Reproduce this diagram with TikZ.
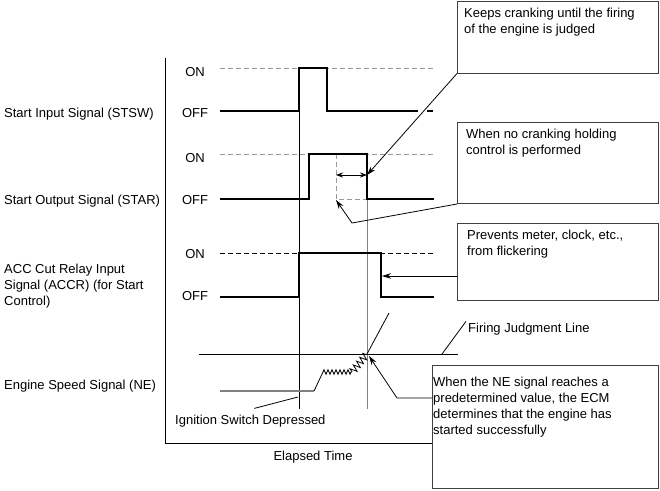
\documentclass[tikz,border=0pt]{standalone}
\usepackage{fontspec}
\setmainfont{Liberation Sans}
\usetikzlibrary{arrows.meta,decorations.pathmorphing}
\begin{document}
\begin{tikzpicture}[x=1pt,y=-1pt,
  every node/.style={font=\fontsize{13}{15.5}\selectfont, inner sep=0pt},
  lbl/.style={anchor=base west, align=left},
  onoff/.style={anchor=base},
  sig/.style={line width=1.3pt, line join=miter},
  dsh/.style={gray!80, line width=0.9pt, dash pattern=on 5pt off 3pt},
  dshk/.style={black, line width=0.9pt, dash pattern=on 5pt off 3pt},
  frame/.style={line width=0.9pt},
  thinv/.style={line width=0.7pt},
  box/.style={draw=black!75, line width=1pt, anchor=north west},
  boxtext/.style={anchor=north west, align=left},
  lead/.style={line width=0.8pt},
  tip/.style={-{Stealth[length=9pt,width=5.5pt]}},
  dtip/.style={{Stealth[length=7pt,width=5pt]}-{Stealth[length=7pt,width=5pt]}},
]
\useasboundingbox (0,0) rectangle (660,490);

% frame
\draw[frame] (165,58) -- (165,443) -- (432,443);

% boxes
\node[box, minimum width=201pt, minimum height=72pt] (b1) at (457,0.5) {};
\node[boxtext] (t1) at (464,8) {Keeps cranking until the firing\\of the engine is judged};
\node[box, minimum width=201pt, minimum height=81pt] (b2) at (457,122) {};
\node[boxtext] (t2) at (466,129) {When no cranking holding\\control is performed};
\node[box, minimum width=201pt, minimum height=77pt] (b3) at (457,223) {};
\node[boxtext] (t3) at (467,230) {Prevents meter, clock, etc.,\\from flickering};
\node[box, minimum width=226pt, minimum height=123pt] (b4) at (432,365) {};
\node[boxtext, font=\fontsize{13}{16}\selectfont] (t4) at (433,377) {When the NE signal reaches a\\predetermined value, the ECM\\determines that the engine has\\started successfully};

% left labels
\node[lbl] (lstsw) at (4,117) {Start Input Signal (STSW)};
\node[lbl] (lstar) at (4,204) {Start Output Signal (STAR)};
\node[anchor=north west, align=left, font=\fontsize{13}{16}\selectfont] (laccr) at (4,263.5) {ACC Cut Relay Input\\Signal (ACCR) (for Start\\Control)};
\node[lbl] (lne) at (4,389) {Engine Speed Signal (NE)};

% on/off labels
\node[onoff] (on1) at (195,76) {ON};
\node[onoff] (off1) at (195,117) {OFF};
\node[onoff] (on2) at (195,162) {ON};
\node[onoff] (off2) at (195,204) {OFF};
\node[onoff] (on3) at (195,258) {ON};
\node[onoff] (off3) at (195,300) {OFF};

% reference verticals
\draw[thinv] (299,111) -- (299,409);
\draw[thinv, gray] (367,199) -- (367,409);

% STSW
\draw[dsh] (220,68) -- (435,68);
\draw[sig] (220,111) -- (299,111) -- (299,68) -- (327,68) -- (327,111) -- (418,111);
\draw[sig] (427,111) -- (433,111);

% STAR
\draw[dsh] (220,154) -- (435,154);
\draw[dsh] (336,154) -- (336,199) -- (367,199);
\draw[sig] (220,199) -- (309,199) -- (309,154) -- (367,154) -- (367,199) -- (434,199);
\draw[lead, dtip] (336,175) -- (367,175);

% ACCR
\draw[dshk] (220,253) -- (435,253);
\draw[sig] (220,297) -- (299,297) -- (299,253) -- (381,253) -- (381,297) -- (434,297);

% NE
\draw[line width=0.8pt] (199,354) -- (458,354);
\draw[gray, line width=1.3pt] (220,391) -- (314,391);
\draw[line width=0.8pt] (314,391) -- (323,372);
\draw[line width=0.8pt, decorate, decoration={zigzag, segment length=4pt, amplitude=2.3pt}] (323,372) -- (352,372);
\draw[line width=0.8pt, decorate, decoration={zigzag, segment length=5pt, amplitude=3.5pt}] (352,372) -- (367,354);
\draw[line width=0.8pt] (367,354) -- (389,313);

% other labels
\node[lbl] (fjl) at (468,332) {Firing Judgment Line};
\node[lbl] (ign) at (175,424) {Ignition Switch Depressed};
\node[anchor=base] (et) at (313,460) {Elapsed Time};

% anchor coordinates
\coordinate (starfall) at (367,175);
\coordinate (altcorner) at (336,200);
\coordinate (b2kink) at (352,223);
\coordinate (accrfall) at (382,276);
\coordinate (nekink) at (397,398);
\coordinate (nept) at (369,356);
\coordinate (fjlpt) at (442,354);
\coordinate (ignpt) at (298,397);

% leaders
\draw[lead, tip] (b1.south west) -- (starfall);
\draw[lead, tip] (b2.south west) -- (b2kink) -- (altcorner);
\draw[lead, tip] (b3.west |- accrfall) -- (accrfall);
\draw[lead, tip] (b4.west |- nekink) -- (nekink) -- (nept);
\draw[lead] ([xshift=-2pt,yshift=1pt]fjl.north west) -- (fjlpt);
\draw[lead] ([xshift=4pt,yshift=6pt]ign.north) -- (ignpt);
\end{tikzpicture}
\end{document}
